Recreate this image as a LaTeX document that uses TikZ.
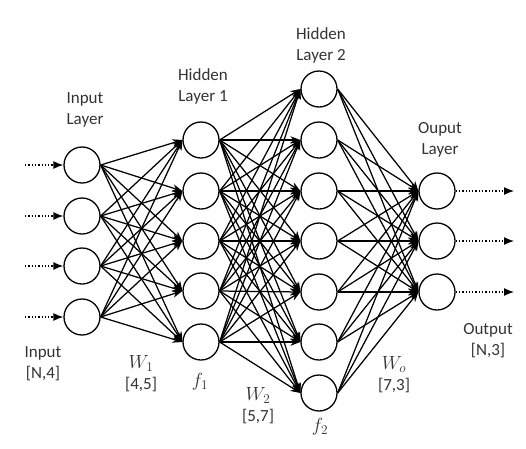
\documentclass[tikz,border=0pt]{standalone}
\usepackage{fix-cm}
\usepackage{fontspec}
\setmainfont{Carlito}
\usetikzlibrary{arrows.meta}
\definecolor{txt}{HTML}{333333}
\newcommand\mth[1]{{\fontsize{19}{21}\selectfont$#1$}}
\begin{document}
\begin{tikzpicture}[x=1pt,y=-1pt,
  neuron/.style={circle,draw,line width=1.3pt,minimum size=36pt,inner sep=0pt,fill=white},
  conn/.style={line width=1.25pt,-{Stealth[length=10pt,width=7.5pt]}},
  feed/.style={line width=1.3pt,dotted,-{Latex[length=10pt,width=8pt]}},
  lbl/.style={font=\fontsize{17}{21}\selectfont,align=center,text=txt,inner sep=0pt}]
\useasboundingbox (0,0) rectangle (526,448);
% input layer
\foreach \i/\y in {1/165,2/216,3/266,4/317}{
  \node[neuron] (i\i) at (82,\y) {};
  \coordinate (ia\i) at (25,\y);
  \draw[feed] (ia\i) -- (i\i.west);
}
% hidden layer 1
\foreach \i/\y in {1/140,2/191,3/241,4/291,5/342}{
  \node[neuron] (h\i) at (201,\y) {};
}
% hidden layer 2
\foreach \i/\y in {1/89,2/140,3/191,4/241,5/292,6/342,7/393}{
  \node[neuron] (g\i) at (319,\y) {};
}
% output layer
\foreach \i/\y in {1/191,2/241,3/292}{
  \node[neuron] (o\i) at (437,\y) {};
  \coordinate (oa\i) at (514,\y);
  \draw[feed] (o\i.east) -- (oa\i);
}
% connections
\foreach \a in {1,...,4}{\foreach \b in {1,...,5}{\draw[conn] (i\a.east) -- (h\b.west);}}
\foreach \a in {1,...,5}{\foreach \b in {1,...,7}{\draw[conn] (h\a.east) -- (g\b.west);}}
\foreach \a in {1,...,7}{\foreach \b in {1,...,3}{\draw[conn] (g\a.east) -- (o\b.west);}}
% labels
\node[lbl] (lin) at (85,110) {Input\\Layer};
\node[lbl] (lh1) at (203,86) {Hidden\\Layer 1};
\node[lbl] (lh2) at (321,45) {Hidden\\Layer 2};
\node[lbl] (lout) at (440,140) {Ouput\\Layer};
\node[lbl] (din) at (43,364) {Input\\{}[N,4]};
\node[lbl] (w1) at (141,374) {\mth{W_1}\\{}[4,5]};
\node[lbl] (f1) at (200,382) {\mth{f_1}};
\node[lbl] (w2) at (258,406) {\mth{W_2}\\{}[5,7]};
\node[lbl] (f2) at (320,427) {\mth{f_2}};
\node[lbl] (wo) at (394,375) {\mth{W_o}\\{}[7,3]};
\node[lbl] (dout) at (488,341) {Output\\{}[N,3]};
\end{tikzpicture}
\end{document}
